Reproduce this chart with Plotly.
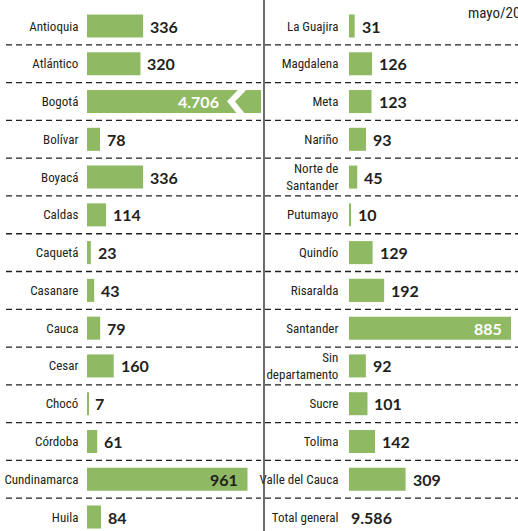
import plotly.graph_objects as go

# ---------------- data ----------------
left_departments = ["Antioquia", "Atlántico", "Bogotá", "Bolívar", "Boyacá", "Caldas",
                    "Caquetá", "Casanare", "Cauca", "Cesar", "Chocó", "Córdoba",
                    "Cundinamarca", "Huila"]
left_values = [336, 320, 4706, 78, 336, 114, 23, 43, 79, 160, 7, 61, 961, 84]

right_departments = ["La Guajira", "Magdalena", "Meta", "Nariño", "Norte de<br>Santander",
                     "Putumayo", "Quindío", "Risaralda", "Santander", "Sin<br>departamento",
                     "Sucre", "Tolima", "Valle del Cauca"]
right_values = [31, 126, 123, 93, 45, 10, 129, 192, 885, 92, 101, 142, 309]

total_label = "Total general"
total_value = 9586
date_label = "mayo/2020"

# ---------------- style ----------------
W, H = 518, 531
GREEN = "#8fba63"
DARK = "#231f20"
LABEL_FONT = "Roboto Condensed, DejaVu Sans Condensed, sans-serif"
VALUE_FONT = "Lato, Open Sans, sans-serif"
LSIZE = 13
VSIZE = 16

LEFT_MAX = 1042   # left axis truncated (Bogotá broken bar)
RIGHT_MAX = 923

def fmt(v):
    return f"{v:,}".replace(",", ".")

n_rows = len(left_departments)
rows = list(range(n_rows))
right_rows = list(range(len(right_departments)))

fig = go.Figure()

fig.add_trace(go.Bar(
    x=left_values, y=rows, orientation="h", xaxis="x", yaxis="y",
    marker=dict(color=GREEN, line=dict(width=0)), width=0.61,
    hoverinfo="skip", cliponaxis=True))
fig.add_trace(go.Bar(
    x=right_values, y=right_rows, orientation="h", xaxis="x2", yaxis="y2",
    marker=dict(color=GREEN, line=dict(width=0)), width=0.61,
    hoverinfo="skip"))

annotations = []
inside_left = {"Bogotá": "white", "Cundinamarca": DARK}
inside_right = {"Santander": "white"}

for i, (name, v) in enumerate(zip(left_departments, left_values)):
    if name in inside_left:
        xv = min(v, LEFT_MAX)
        shift = -40 if v > LEFT_MAX else -7
        annotations.append(dict(x=xv, y=i, xref="x", yref="y", text=fmt(v),
                                xanchor="right", yanchor="middle", xshift=shift,
                                showarrow=False,
                                font=dict(family=VALUE_FONT, size=VSIZE, color=inside_left[name], weight="bold")))
    else:
        annotations.append(dict(x=v, y=i, xref="x", yref="y", text=fmt(v),
                                xanchor="left", yanchor="middle", xshift=5,
                                showarrow=False,
                                font=dict(family=VALUE_FONT, size=VSIZE, color=DARK, weight="bold")))

for i, (name, v) in enumerate(zip(right_departments, right_values)):
    if name in inside_right:
        annotations.append(dict(x=v, y=i, xref="x2", yref="y2", text=fmt(v),
                                xanchor="right", yanchor="middle", xshift=-7,
                                showarrow=False,
                                font=dict(family=VALUE_FONT, size=VSIZE, color=inside_right[name], weight="bold")))
    else:
        annotations.append(dict(x=v, y=i, xref="x2", yref="y2", text=fmt(v),
                                xanchor="left", yanchor="middle", xshift=5,
                                showarrow=False,
                                font=dict(family=VALUE_FONT, size=VSIZE, color=DARK, weight="bold")))

annotations.append(dict(x=0, y=len(right_values), xref="x2", yref="y2", text=fmt(total_value),
                        xanchor="left", yanchor="middle", xshift=0, showarrow=False,
                        font=dict(family=VALUE_FONT, size=VSIZE, color=DARK, weight="bold")))

annotations.append(dict(x=466 / W, y=1 - 13 / H, xref="paper", yref="paper", text=date_label,
                        xanchor="left", yanchor="middle", showarrow=False,
                        font=dict(family=LABEL_FONT, size=15, color=DARK)))

shapes = []
for k in range(n_rows - 1):
    yk = k + 0.5
    shapes.append(dict(type="line", xref="paper", yref="y", x0=6 / W, x1=261 / W, y0=yk, y1=yk,
                       line=dict(color=DARK, width=1.3, dash="6px,4px")))
    shapes.append(dict(type="line", xref="paper", yref="y", x0=265 / W, x1=1, y0=yk, y1=yk,
                       line=dict(color=DARK, width=1.3, dash="6px,4px")))
shapes.append(dict(type="line", xref="paper", yref="paper", x0=264 / W, x1=264 / W, y0=0, y1=1,
                   line=dict(color="#3a3a3a", width=1.5)))

def P(px, py):
    return f"{px / W:.5f},{1 - py / H:.5f}"
path = f"M {P(244, 88)} L {P(231, 101.5)} L {P(242, 115)}"
shapes.append(dict(type="path", xref="paper", yref="paper", path=path,
                   line=dict(color="white", width=6)))

y_top = -26 / 37.77
y_bot = (H - 26) / 37.77

fig.update_layout(
    template="none",
    width=W, height=H,
    margin=dict(l=0, r=0, t=0, b=0, autoexpand=False),
    paper_bgcolor="white", plot_bgcolor="white",
    showlegend=False,
    barmode="overlay",
    xaxis=dict(domain=[87 / W, 261 / W], range=[0, LEFT_MAX], visible=False, fixedrange=True),
    yaxis=dict(domain=[0, 1], range=[y_bot, y_top], anchor="x", automargin=False,
               tickmode="array", tickvals=rows, ticktext=left_departments,
               ticks="outside", ticklen=5, tickcolor="rgba(0,0,0,0)",
               showgrid=False, zeroline=False, showline=False,
               tickfont=dict(family=LABEL_FONT, size=LSIZE, color=DARK)),
    xaxis2=dict(domain=[349 / W, 1], range=[0, RIGHT_MAX], visible=False, anchor="y2"),
    yaxis2=dict(domain=[0, 1], range=[y_bot, y_top], anchor="x2", automargin=False,
                tickmode="array", tickvals=right_rows + [len(right_values)],
                ticktext=right_departments + [total_label],
                ticks="outside", ticklen=7, tickcolor="rgba(0,0,0,0)",
                showgrid=False, zeroline=False, showline=False,
                tickfont=dict(family=LABEL_FONT, size=LSIZE, color=DARK)),
    annotations=annotations,
    shapes=shapes,
)

fig.write_html("out.html", config={"displayModeBar": False},
               post_script="document.body.style.margin='0';")
